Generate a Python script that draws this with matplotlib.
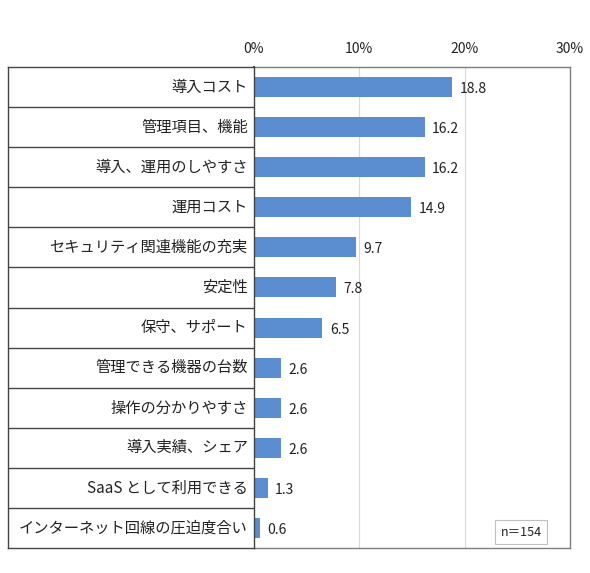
import matplotlib
matplotlib.use("Agg")
import matplotlib.pyplot as plt

plt.rcParams['font.family'] = ['Noto Sans CJK JP', 'DejaVu Sans']

# data
labels = ["導入コスト", "管理項目、機能", "導入、運用のしやすさ", "運用コスト",
          "セキュリティ関連機能の充実", "安定性", "保守、サポート", "管理できる機器の台数",
          "操作の分かりやすさ", "導入実績、シェア", "SaaS として利用できる",
          "インターネット回線の圧迫度合い"]
values = [18.8, 16.2, 16.2, 14.9, 9.7, 7.8, 6.5, 2.6, 2.6, 2.6, 1.3, 0.6]
xticks = [0, 10, 20, 30]
note = "n＝154"

W, H = 590, 573
fig = plt.figure(figsize=(W / 100, H / 100), dpi=100)

x0, x1, y0, y1 = 254, 570, 67, 548
lx0 = 8
ax = fig.add_axes([x0 / W, 1 - y1 / H, (x1 - x0) / W, (y1 - y0) / H])
lab = fig.add_axes([lx0 / W, 1 - y1 / H, (x0 - lx0) / W, (y1 - y0) / H])

n = len(labels)
ypos = list(range(n))
ax.barh(ypos, values, height=0.5, color='#5B8ED0', zorder=3)
for y, v in zip(ypos, values):
    ax.text(v + 0.7, y + 0.05, f"{v:.1f}", va='center', ha='left', fontsize=10, color='#222222')

ax.set_xlim(0, 30)
ax.set_ylim(n - 0.5, -0.5)
ax.set_xticks(xticks)
ax.set_xticklabels([f"{t}%" for t in xticks], fontsize=10, color='#222222')
ax.xaxis.tick_top()
ax.tick_params(axis='x', length=0, pad=8)
ax.set_yticks([])
ax.grid(axis='x', color='#d9d9d9', linewidth=0.8, zorder=0)
for s in ['top', 'right', 'bottom']:
    ax.spines[s].set_color('#7f7f7f')
    ax.spines[s].set_linewidth(1.0)
ax.spines['left'].set_color('black')
ax.spines['left'].set_linewidth(1.2)

ax.text(0.845, 0.033, note, transform=ax.transAxes, ha='center', va='center', fontsize=9,
        color='#222222',
        bbox=dict(boxstyle='square,pad=0.45', facecolor='white', edgecolor='#bfbfbf', linewidth=0.8))

# label panel
lab.set_xlim(0, 1)
lab.set_ylim(n - 0.5, -0.5)
lab.set_xticks([])
lab.set_yticks([])
for s in lab.spines.values():
    s.set_color('#444444')
    s.set_linewidth(1.0)
for k in range(1, n):
    lab.axhline(k - 0.5, color='#444444', linewidth=1.0)
for y, t in zip(ypos, labels):
    lab.text(0.975, y, t, ha='right', va='center', fontsize=11, color='#222222')

fig.savefig("out.png", dpi=100)
